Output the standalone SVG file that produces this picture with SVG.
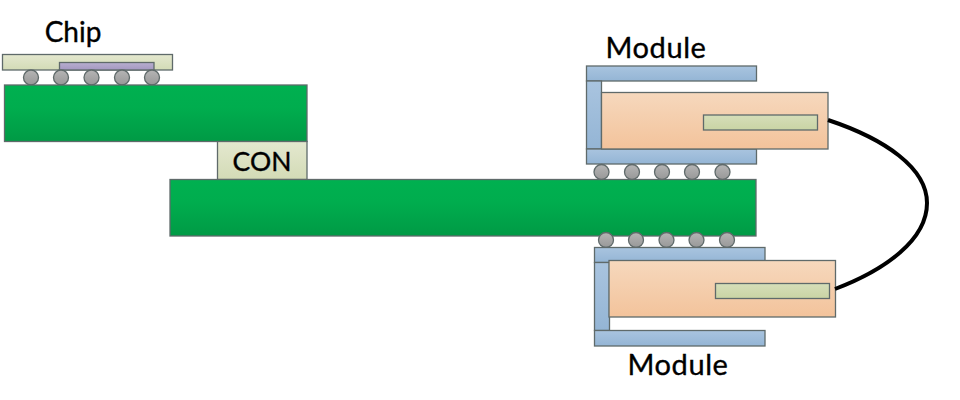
<svg xmlns="http://www.w3.org/2000/svg" width="960" height="400" viewBox="0 0 960 400">
<style>
rect,circle{stroke:#5f6a6a;stroke-width:1.3}
.pcb{fill:url(#g)}
.sub{fill:url(#l)}
.die{fill:url(#p)}
.ball{fill:url(#b)}
.bar{fill:url(#s)}
.org{fill:url(#o)}
.ins{fill:url(#i)}
text{font-family:Lato,"Open Sans",sans-serif;font-size:28px;fill:#000;stroke:#000;stroke-width:.35;text-anchor:middle}
.mod{font-size:29px;letter-spacing:.6px}
.con{font-size:26.5px}
.wire{fill:none;stroke:#000;stroke-width:4}
</style>
<defs>
<linearGradient id="g" x1="0" y1="0" x2="0" y2="1"><stop offset="0" stop-color="#00b050"/><stop offset=".4" stop-color="#00ad4e"/><stop offset="1" stop-color="#009a45"/></linearGradient>
<linearGradient id="l" x1="0" y1="0" x2="0" y2="1"><stop offset="0" stop-color="#e4e8cf"/><stop offset="1" stop-color="#d3dbb6"/></linearGradient>
<linearGradient id="p" x1="0" y1="0" x2="0" y2="1"><stop offset="0" stop-color="#b8aed0"/><stop offset="1" stop-color="#a498c0"/></linearGradient>
<linearGradient id="b" x1="0" y1="0" x2="0" y2="1"><stop offset="0" stop-color="#b5b5b5"/><stop offset="1" stop-color="#989898"/></linearGradient>
<linearGradient id="s" x1="0" y1="0" x2="0" y2="1"><stop offset="0" stop-color="#a9c4df"/><stop offset="1" stop-color="#94b5d5"/></linearGradient>
<linearGradient id="o" x1="0" y1="0" x2="0" y2="1"><stop offset="0" stop-color="#f6d8bd"/><stop offset="1" stop-color="#f3c39b"/></linearGradient>
<linearGradient id="i" x1="0" y1="0" x2="0" y2="1"><stop offset="0" stop-color="#d6deb9"/><stop offset="1" stop-color="#c9d4a4"/></linearGradient>
</defs>
<g id="chip-assembly">
<rect class="sub" x="2.5" y="54.5" width="170" height="15.5"/>
<rect class="die" x="59.5" y="62.5" width="94.5" height="7.5"/>
<circle class="ball" cx="31" cy="77.5" r="7.5"/><circle class="ball" cx="61" cy="77.5" r="7.5"/><circle class="ball" cx="91.5" cy="77.5" r="7.5"/><circle class="ball" cx="122" cy="77.5" r="7.5"/><circle class="ball" cx="152" cy="77.5" r="7.5"/>
<text x="73" y="42">Chip</text>
</g>
<g id="daughter-board"><rect class="pcb" x="4.5" y="85" width="302.5" height="56.5"/></g>
<g id="connector"><rect class="sub" x="217.5" y="141.5" width="89.5" height="38"/><text class="con" x="262" y="171">CON</text></g>
<g id="main-board"><rect class="pcb" x="170" y="179.5" width="586" height="56.5"/></g>
<g id="module-top">
<rect class="bar" x="586.5" y="66" width="170" height="15"/>
<rect class="bar" x="586.5" y="81" width="15" height="68"/>
<rect class="bar" x="586.5" y="149" width="170" height="15"/>
<rect class="org" x="601.5" y="92.5" width="226.5" height="56.5"/>
<rect class="ins" x="703.5" y="115" width="114" height="15"/>
<circle class="ball" cx="601.5" cy="172" r="7.5"/><circle class="ball" cx="632" cy="172" r="7.5"/><circle class="ball" cx="662" cy="172" r="7.5"/><circle class="ball" cx="692" cy="172" r="7.5"/><circle class="ball" cx="722.5" cy="172" r="7.5"/>
<text class="mod" x="656" y="57.5">Module</text>
</g>
<g id="module-bottom">
<circle class="ball" cx="606" cy="240" r="7.5"/><circle class="ball" cx="636" cy="240" r="7.5"/><circle class="ball" cx="666.5" cy="240" r="7.5"/><circle class="ball" cx="696.5" cy="240" r="7.5"/><circle class="ball" cx="727" cy="240" r="7.5"/>
<rect class="bar" x="594.5" y="247.5" width="170.5" height="15"/>
<rect class="bar" x="594.5" y="262.5" width="15" height="68"/>
<rect class="bar" x="594.5" y="330.5" width="170.5" height="15.5"/>
<rect class="org" x="609" y="260.5" width="226.5" height="56.5"/>
<rect class="ins" x="715.5" y="283.5" width="114" height="15"/>
<text class="mod" x="678" y="375">Module</text>
</g>
<g id="connectors"><path class="wire" d="M828 120C885 139 927 168 927 203C927 240 885 270 835 289"/></g>
</svg>
